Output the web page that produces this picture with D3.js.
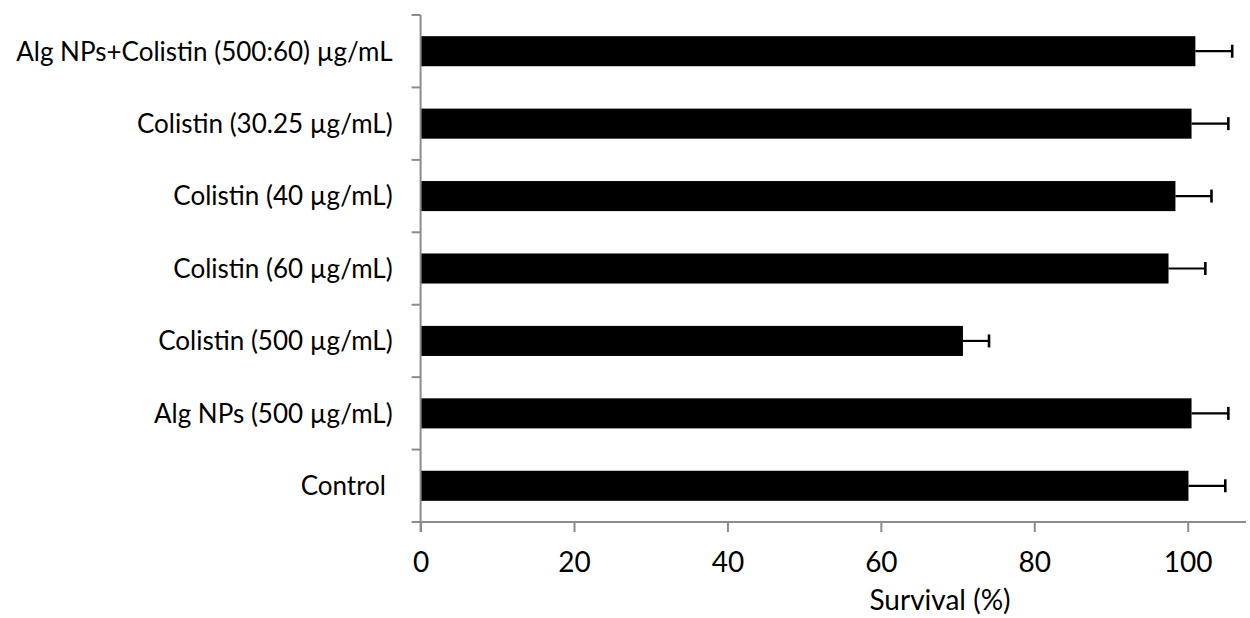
<!DOCTYPE html>
<html>
<head>
<meta charset="utf-8">
<script src="https://cdn.jsdelivr.net/npm/d3@7"></script>
<style>
  body { margin: 0; background: #fff; }
  text { font-family: Lato, "Open Sans", sans-serif; fill: #000; }
</style>
</head>
<body>
<div id="chart"></div>
<script>

// categories, top to bottom

var categories = [
	"Alg NPs+Colistin (500:60) \u00b5g/mL",
	"Colistin (30.25 \u00b5g/mL)",
	"Colistin (40 \u00b5g/mL)",
	"Colistin (60 \u00b5g/mL)",
	"Colistin (500 \u00b5g/mL)",
	"Alg NPs (500 \u00b5g/mL)",
	"Control "
];

// survival (%) and error (sd)

var survival = [101.0, 100.5, 98.4, 97.5, 70.7, 100.5, 100.1];
var errors = [4.8, 4.8, 4.7, 4.8, 3.4, 4.8, 4.8];

var xTicks = [0, 20, 40, 60, 80, 100];

var svgWidth = 1250;
var svgHeight = 618;

var margin = { top: 15, right: 4, bottom: 96, left: 420.6 };

var width = svgWidth - margin.left - margin.right;
var height = svgHeight - margin.top - margin.bottom;

var svg = d3.select("#chart")
	.append("svg")
	.attr("width", svgWidth)
	.attr("height", svgHeight);

var chartGroup = svg.append("g")
	.attr("transform", `translate(${margin.left}, ${margin.top})`);

// scales

var xLinearScale = d3.scaleLinear()
	.domain([0, 107.6])
	.range([0, width]);

var yBandScale = d3.scaleBand()
	.domain(categories)
	.range([0, height])
	.paddingInner(0.585)
	.paddingOuter(0.2925);

// bars

chartGroup.selectAll(".bar")
	.data(categories)
	.enter()
	.append("rect")
	.attr("class", "bar")
	.attr("x", 0)
	.attr("y", d => yBandScale(d))
	.attr("width", (d, i) => xLinearScale(survival[i]))
	.attr("height", yBandScale.bandwidth())
	.attr("fill", "#000");

// error bars

var errGroup = chartGroup.selectAll(".err")
	.data(categories)
	.enter()
	.append("g")
	.attr("class", "err")
	.attr("transform", d => `translate(0, ${yBandScale(d) + yBandScale.bandwidth() / 2})`);

errGroup.append("line")
	.attr("x1", (d, i) => xLinearScale(survival[i]))
	.attr("x2", (d, i) => xLinearScale(survival[i] + errors[i]))
	.attr("y1", 0)
	.attr("y2", 0)
	.attr("stroke", "#000")
	.attr("stroke-width", 2.2);

errGroup.append("line")
	.attr("x1", (d, i) => xLinearScale(survival[i] + errors[i]))
	.attr("x2", (d, i) => xLinearScale(survival[i] + errors[i]))
	.attr("y1", -6.5)
	.attr("y2", 6.5)
	.attr("stroke", "#000")
	.attr("stroke-width", 2.6);

// x axis

var bottomAxis = d3.axisBottom(xLinearScale)
	.tickValues(xTicks)
	.tickSizeInner(10)
	.tickSizeOuter(0)
	.tickPadding(20);

var xAxis = chartGroup.append("g")
	.attr("transform", `translate(0, ${height})`)
	.call(bottomAxis);

xAxis.select(".domain")
	.attr("d", `M-9,0H${width}`);

// y axis (category boundaries as ticks)

var boundaries = categories.map(d => yBandScale(d) - yBandScale.step() * yBandScale.paddingInner() / 2);

var yAxis = chartGroup.append("g");

yAxis.append("line")
	.attr("x1", 0)
	.attr("x2", 0)
	.attr("y1", 0)
	.attr("y2", height + 10);

yAxis.selectAll(".ytick")
	.data(boundaries)
	.enter()
	.append("line")
	.attr("class", "ytick")
	.attr("x1", -9)
	.attr("x2", 0)
	.attr("y1", d => d)
	.attr("y2", d => d);

yAxis.selectAll("line")
	.attr("stroke", "#8c8c8c")
	.attr("stroke-width", 2);

xAxis.selectAll("path, line")
	.attr("stroke", "#8c8c8c")
	.attr("stroke-width", 2);

xAxis.selectAll("text")
	.style("font-family", "Lato, sans-serif")
	.style("font-size", "28px")
	.attr("fill", "#000");

// category labels

chartGroup.selectAll(".catLabel")
	.data(categories)
	.enter()
	.append("text")
	.attr("class", "catLabel")
	.attr("x", -28)
	.attr("y", d => yBandScale(d) + yBandScale.bandwidth() / 2)
	.attr("dy", "0.36em")
	.attr("text-anchor", "end")
	.style("font-size", "26px")
	.style("white-space", "pre")
	.text(d => d);

// x axis title

svg.append("text")
	.attr("x", 940)
	.attr("y", 610)
	.attr("text-anchor", "middle")
	.style("font-size", "28px")
	.text("Survival (%)");

</script>
</body>
</html>
